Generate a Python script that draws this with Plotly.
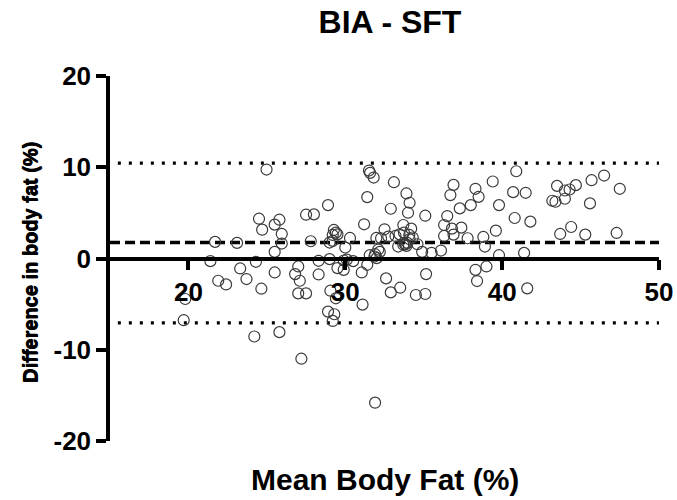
import plotly.graph_objects as go

# Bland-Altman data: mean body fat vs difference (BIA - SFT)
mean_bf = [
    24.98, 31.51, 31.58, 31.81, 33.1, 40.9, 46.5, 45.7, 43.5, 44.7,
    44.3, 44.0, 47.5, 36.9, 36.7, 39.4, 38.3, 38.5, 40.7, 41.5,
    31.4, 33.9, 34.1, 34.0, 38.0, 39.8, 43.2, 43.4, 44.0, 45.6,
    28.9, 32.9, 37.3, 35.1, 36.5, 40.8, 41.8, 24.5, 25.8, 27.5,
    28.0, 25.5, 24.7, 25.95, 31.2, 32.5, 33.7, 34.2, 36.3, 36.8,
    37.4, 36.3, 36.9, 39.6, 44.4, 43.7, 45.3, 47.3, 29.27, 29.4,
    29.2, 29.5, 29.2, 30.3, 27.8, 21.7, 23.1, 25.95, 29.0, 30.0,
    31.98, 32.28, 32.74, 33.2, 33.46, 33.74, 34.08, 34.1, 33.78, 33.9,
    33.37, 33.85, 34.6, 37.8, 38.8, 38.9, 34.9, 35.5, 36.1, 39.8,
    41.4, 25.5, 32.2, 31.56, 31.86, 32.0, 31.9, 21.4, 24.3, 28.3,
    29.0, 29.9, 30.5, 31.4, 23.3, 25.5, 27.0, 26.8, 27.1, 28.3,
    29.5, 29.9, 31.05, 32.6, 35.15, 38.3, 39.0, 38.4, 21.9, 22.4,
    23.7, 24.65, 27.0, 27.5, 29.05, 29.4, 32.9, 33.5, 34.5, 35.1,
    41.6, 19.8, 31.1, 28.9, 29.3, 29.2, 19.7, 24.2, 25.8, 27.2,
    31.9, 33.7, 33.95, 30.1, 32.1, 34.3,
]
diff_bf = [
    9.75, 9.64, 9.38, 8.87, 8.36, 9.56, 9.09, 8.58, 7.96, 8.04,
    7.56, 7.45, 7.64, 8.07, 6.95, 8.44, 7.64, 6.76, 7.27, 7.2,
    6.73, 7.13, 6.11, 5.02, 5.85, 5.85, 6.33, 6.22, 6.55, 6.04,
    5.85, 5.45, 5.49, 4.69, 4.65, 4.44, 4.04, 4.36, 4.25, 4.8,
    4.84, 3.71, 3.16, 2.69, 3.75, 3.2, 3.67, 3.27, 3.67, 3.27,
    3.38, 2.47, 2.62, 3.05, 3.45, 2.69, 2.62, 2.8, 3.13, 2.84,
    2.58, 2.65, 1.93, 2.25, 1.89, 1.82, 1.71, 1.64, 1.75, 1.2,
    2.25, 2.22, 2.4, 2.47, 2.65, 2.84, 2.58, 2.11, 1.64, 1.38,
    1.31, 1.56, 1.56, 2.22, 2.36, 1.31, 0.73, 0.62, 0.87, 0.36,
    0.62, 0.73, 0.73, 0.36, 0.22, 0.04, 0.47, -0.29, -0.36, -0.25,
    -0.07, -0.22, -0.29, -0.69, -1.09, -1.53, -0.87, -1.71, -2.44, -1.75,
    -1.05, -1.24, -1.53, -2.18, -1.71, -1.24, -0.87, -2.47, -2.44, -2.84,
    -2.25, -3.31, -3.82, -3.82, -3.53, -4.36, -3.71, -3.2, -4.0, -3.89,
    -3.27, -4.44, -5.05, -5.82, -6.11, -6.84, -6.76, -8.55, -8.07, -10.98,
    -15.8, 1.5, 1.72, -0.12, 0.98, 2.3,
]

# Mean bias and 95% limits of agreement
bias = 1.75
upper_loa = 10.45
lower_loa = -7.05

x_range = [15, 50]
y_range = [-20, 20]
x_ticks = [20, 30, 40, 50]
y_ticks = [-20, -10, 0, 10, 20]
y_tick_text = ["-20", "-10", "0", "10", "20"]

FONT = "Arial, Liberation Sans, sans-serif"

fig = go.Figure()

# Limits of agreement (dotted)
for level in (upper_loa, lower_loa):
    fig.add_trace(go.Scatter(
        x=[15.5, x_range[1]], y=[level, level], mode="lines",
        line=dict(color="black", width=3.2, dash="3px,8px"),
        hoverinfo="skip", showlegend=False,
    ))

# Mean bias (dashed)
fig.add_trace(go.Scatter(
    x=[x_range[0], x_range[1]], y=[bias, bias], mode="lines",
    line=dict(color="black", width=3.5, dash="10px,5px"),
    hoverinfo="skip", showlegend=False,
))

# Individual subjects
fig.add_trace(go.Scatter(
    x=mean_bf, y=diff_bf, mode="markers",
    marker=dict(symbol="circle-open", size=11, color="#3a3a3a",
                line=dict(width=1.2, color="#3a3a3a")),
    showlegend=False,
))

fig.update_layout(
    template="none",
    width=677, height=500,
    margin=dict(l=110, r=18, t=76, b=59, autoexpand=False),
    paper_bgcolor="white", plot_bgcolor="white",
    font=dict(family=FONT, color="black"),
    title=dict(text="BIA - SFT", x=390 / 677, xanchor="center",
               y=1 - 22 / 500, yanchor="middle",
               font=dict(family=FONT, size=32, weight="bold", color="black")),
    xaxis=dict(
        range=x_range, tickvals=x_ticks, anchor="free", position=0.5,
        automargin=False,
        showline=True, linecolor="black", linewidth=3.5,
        ticks="outside", ticklen=10, tickwidth=3.5, tickcolor="black",
        showgrid=False, zeroline=False,
        tickfont=dict(family=FONT, size=26, weight="bold", color="black"),
    ),
    yaxis=dict(
        range=y_range, tickvals=y_ticks, ticktext=y_tick_text,
        automargin=False,
        showline=True, linecolor="black", linewidth=3.5,
        ticks="outside", ticklen=10, tickwidth=3.5, tickcolor="black",
        showgrid=False, zeroline=False,
        tickfont=dict(family=FONT, size=26, weight="bold", color="black"),
    ),
    annotations=[
        dict(text="Mean Body Fat (%)", xref="paper", yref="paper",
             x=0.5, y=(441 - 480) / 365, xanchor="center", yanchor="middle",
             showarrow=False,
             font=dict(family=FONT, size=30, weight="bold", color="black")),
        dict(text="Difference in body fat (%)", xref="paper", yref="paper",
             x=(30 - 110) / 549, y=(441 - 262) / 365, textangle=-90,
             xanchor="center", yanchor="middle", showarrow=False,
             font=dict(family=FONT, size=20, weight="bold", color="black",
                       shadow="0.5px 0 0 black, 0 0.6px 0 black")),
    ],
)

fig.write_html("out.html")
